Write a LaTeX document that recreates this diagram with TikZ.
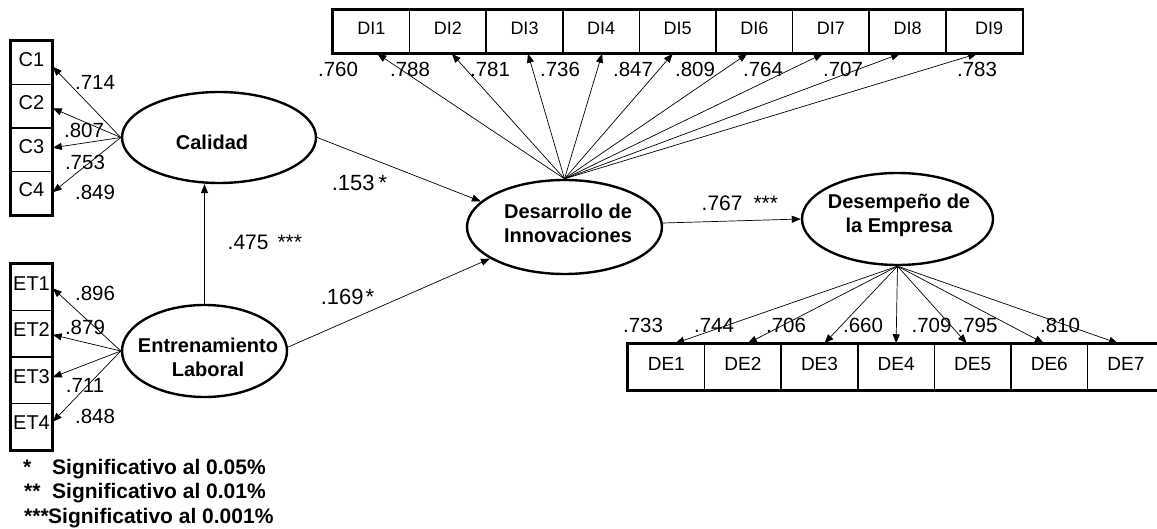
\documentclass[tikz,border=0pt]{standalone}
\usepackage{fontspec}
\setmainfont{Liberation Sans}
\usetikzlibrary{shapes.geometric,arrows.meta}
\begin{document}
\begin{tikzpicture}[x=1pt,y=-1pt,
  latent/.style={draw, ellipse, line width=2.4pt, inner sep=0pt},
  ltext/.style={align=center, inner sep=0pt, font=\fontsize{20}{24}\selectfont\bfseries},
  ind/.style={draw, rectangle, line width=1.5pt, inner sep=0pt, text depth=7pt,
              font=\fontsize{20}{23}\selectfont},
  frame/.style={line width=2.6pt},
  load/.style={-{Triangle[length=9pt,width=7pt]}, line width=0.7pt},
  coef/.style={inner sep=0pt, font=\fontsize{20.5}{24}\selectfont},
  pathcoef/.style={inner sep=0pt, anchor=base west},
  legend/.style={inner sep=0pt, anchor=base west, font=\fontsize{21}{25}\selectfont\bfseries}]

\path[use as bounding box, fill=white] (0,0) rectangle (1157,529);
\clip (0,0) rectangle (1157,529);

% latent variables
\node[latent, minimum width=194pt, minimum height=91pt,
      label={[ltext, xshift=-7pt, yshift=-4.5pt]center:Calidad}] (cal) at (219,137.5) {};
\node[latent, minimum width=165pt, minimum height=92pt,
      label={[ltext, xshift=3.5pt, yshift=-6pt]center:Entrenamiento\\Laboral}] (ent) at (204.5,351) {};
\node[latent, minimum width=195pt, minimum height=94pt,
      label={[ltext, xshift=3.5pt, yshift=3.5pt]center:Desarrollo de\\Innovaciones}] (dev) at (564.5,227) {};
\node[latent, minimum width=191pt, minimum height=92pt,
      label={[ltext, xshift=1.5pt, yshift=4pt]center:Desempeño de\\la Empresa}] (des) at (897.5,219) {};

% indicators of Calidad
\foreach \i/\y in {1/62.75,2/106.25,3/149.75,4/193.25}
  \node[ind, minimum width=41pt, minimum height=43.5pt] (c\i) at (31.5,\y) {C\i};
\draw[frame] (c1.north west) rectangle (c4.south east);

% indicators of Entrenamiento Laboral
\foreach \i/\y in {1/287.25,2/333.75,3/380.25,4/426.75}
  \node[ind, minimum width=41pt, minimum height=46.5pt, text depth=8pt] (et\i) at (31.5,\y) {ET\i};
\draw[frame] (et1.north west) rectangle (et4.south east);

% indicators of Desarrollo de Innovaciones
\foreach \i in {1,...,9}
  \node[ind, minimum width=76.6pt, minimum height=43pt, font=\fontsize{18}{21}\selectfont]
    (di\i) at ({333+76.6*(\i-0.5)},31.5) {\ifnum\i=9\hspace*{10pt}\fi DI\i};
\draw[frame] (di1.north west) rectangle (di9.south east);

% indicators of Desempeño de la Empresa
\foreach \i in {1,...,7}
  \node[ind, minimum width=76.6pt, minimum height=46pt, font=\fontsize{19}{22}\selectfont]
    (de\i) at ({628+76.6*(\i-0.5)},367) {DE\i};
\draw[frame] (de1.north west) rectangle (de7.south east);

% loadings
\foreach \i/\dy in {1/-4,2/-2,3/2,4/1}
  \draw[load] (cal.west) -- ([yshift=\dy pt]c\i.east);
\foreach \i/\dy in {1/-1,2/-1,3/3,4/5}
  \draw[load] (ent.west) -- ([yshift=\dy pt]et\i.east);
\foreach \i/\dx in {1/6,2/4,3/3.5,4/1,5/-5,6/-7,7/-8,8/-7.5,9/-7}
  \draw[load] (dev.north) -- ([xshift=\dx pt]di\i.south);
\foreach \i/\dx in {1/9,2/5,3/5,4/0,5/-6,6/-5.5,7/-8}
  \draw[load] (des.south) -- ([xshift=\dx pt]de\i.north);

% structural paths
\draw[load] (ent.north) -- (ent.north |- cal.south);
\draw[load] (cal.east) -- (dev.163);
\draw[load] ([yshift=4pt]ent.east) -- (dev.203);
\draw[load] ([yshift=4pt]dev.east) -- (des.west);

% loading values
\foreach \v/\x/\y [count=\k] in {.714/95/82,.807/84/130,.753/85/162,.849/95/192,
    .896/95/293,.879/85/327,.711/85/385,.848/95/416}
  \node[coef] (lv\k) at (\x,\y) {\v};
\foreach \v/\x [count=\k] in {.760/338,.788/410,.781/490,.736/560,.847/633,
    .809/695,.764/763,.707/843,.783/977}
  \node[coef] (dv\k) at (\x,69) {\v};
\foreach \v/\x [count=\k] in {.733/643,.744/714,.706/786,.660/863,.709/931.5,
    .795/977.5,.810/1060}
  \node[coef] (ev\k) at (\x,325) {\v};

% path coefficients
\node[pathcoef, font=\fontsize{22}{26}\selectfont] (p1) at (331.6,190.9) {.153\kern4pt*};
\node[pathcoef, font=\fontsize{22}{26}\selectfont] (p2) at (320.6,304.9) {.169\kern2pt*};
\node[pathcoef, font=\fontsize{21}{25}\selectfont] (p3) at (227.5,249.5) {.475\kern9pt***};
\node[pathcoef, font=\fontsize{21}{25}\selectfont] (p4) at (701.5,210.5) {.767\kern11pt***};

% significance legend
\node[legend] (s1) at (23,474) {*};
\node[legend] (t1) at (52,474) {Significativo al 0.05\%};
\node[legend] (s2) at (24,498.5) {**};
\node[legend] (t2) at (52,498.5) {Significativo al 0.01\%};
\node[legend] (s3) at (24,523) {***};
\node[legend] (t3) at (48,523) {Significativo al 0.001\%};
\end{tikzpicture}
\end{document}
